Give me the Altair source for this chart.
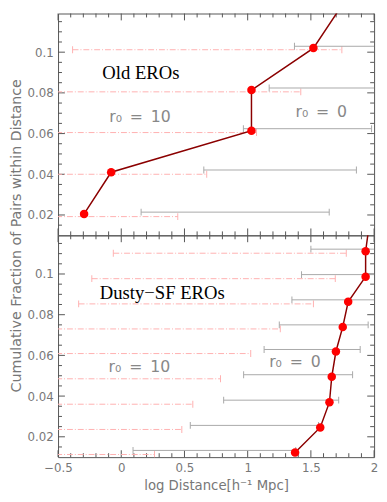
import altair as alt
import pandas as pd

# ---------------- data ----------------
# Old EROs panel
old_x = [-0.294, -0.08, 1.03, 1.03, 1.52, 1.74]
old_y = [0.0205, 0.041, 0.0614, 0.0814, 0.102, 0.1225]
old_r0_lo = [0.157, 0.653, 0.966, 1.17, 1.37]
old_r0_hi = [1.645, 1.86, 1.98, 2.1, 2.1]
old_r0_y = [0.0214, 0.0421, 0.0624, 0.0824, 0.1029]
old_r10_lo = [-0.6, -0.6, -0.6, -0.6, -0.385]
old_r10_hi = [0.447, 0.676, 1.07, 1.42, 1.745]
old_r10_y = [0.0192, 0.0400, 0.0605, 0.0805, 0.1012]

# Dusty-SF EROs panel
dusty_x = [1.375, 1.574, 1.647, 1.665, 1.698, 1.752, 1.795, 1.933, 1.933, 1.96]
dusty_y = [0.0123, 0.0246, 0.037, 0.0495, 0.0619, 0.074, 0.0863, 0.0987, 0.1112, 0.1235]
dusty_r0_lo = [0.093, 0.546, 0.81, 0.968, 1.13, 1.25, 1.35, 1.426, 1.50]
dusty_r0_hi = [1.38, 1.56, 1.72, 1.83, 1.89, 1.953, 2.1, 2.1, 2.1]
dusty_r0_y = [0.0133, 0.0256, 0.038, 0.0505, 0.0629, 0.075, 0.0873, 0.0997, 0.1122]
dusty_r10_lo = [-0.6, -0.6, -0.6, -0.6, -0.6, -0.6, -0.337, -0.233, -0.063]
dusty_r10_hi = [0.263, 0.479, 0.566, 0.785, 1.024, 1.258, 1.52, 1.693, 1.78]
dusty_r10_y = [0.0113, 0.0236, 0.036, 0.0485, 0.0609, 0.073, 0.0853, 0.0977, 0.1102]

# tick values
x_major = [-0.5, 0, 0.5, 1, 1.5, 2]
x_minor = [-0.4, -0.3, -0.2, -0.1, 0.1, 0.2, 0.3, 0.4, 0.6, 0.7, 0.8, 0.9,
           1.1, 1.2, 1.3, 1.4, 1.6, 1.7, 1.8, 1.9]
y_major = [0.02, 0.04, 0.06, 0.08, 0.1]
y_minor = [0.015, 0.025, 0.03, 0.035, 0.045, 0.05, 0.055, 0.065, 0.07, 0.075,
           0.085, 0.09, 0.095, 0.105, 0.11, 0.115]

# annotations: (x, y, text)
old_title = (-0.15, 0.087, "Old EROs")
old_r10 = (-0.095, 0.0657, "r\u2080\u2002=\u200210")
old_r0 = (1.378, 0.068, "r\u2080\u2002=\u20020")
dusty_title = (-0.17, 0.0876, "Dusty\u2212SF EROs")
dusty_r10 = (-0.1, 0.052, "r\u2080\u2002=\u200210")
dusty_r0 = (1.17, 0.0543, "r\u2080\u2002=\u20020")

# ---------------- styling ----------------
W, H = 322, 226
FRAME = "#555555"
LABEL = "#777777"
GRAY = "#a8a8a8"
PINK = "#ffb0b0"
XS = alt.Scale(domain=[-0.5, 2], nice=False, zero=False)
YS = alt.Scale(domain=[0.01, 0.119], nice=False, zero=False)


def panel(px, py, r0, r10, annot, bottom):
    yaxis_kw = dict(values=y_major, format=".2~f", ticks=False, domain=False, grid=False,
                    labelFont="DejaVu Sans", labelFontSize=12, labelColor=LABEL,
                    labelPadding=5)
    if bottom:
        YA = alt.Axis(title="", **yaxis_kw)
        XA = alt.Axis(
            values=x_major, format="~g", ticks=False, domain=False, grid=False,
            labelFont="DejaVu Sans", labelFontSize=12, labelColor=LABEL,
            labelPadding=6, labelFlush=False,
            title="log Distance[h\u207b\u00b9 Mpc]", titleFont="DejaVu Sans",
            titleFontSize=13.5, titleFontWeight="normal", titleColor=LABEL,
            titlePadding=5)
    else:
        YA = alt.Axis(title="Cumulative Fraction of Pairs within Distance",
                      titleFont="DejaVu Sans", titleFontSize=14.5,
                      titleFontWeight="normal", titleColor=LABEL,
                      titleAngle=270, titleX=-49, titleY=H,
                      titleAlign="center", titleBaseline="top", **yaxis_kw)
        XA = None

    def xq(field):
        return alt.X(field, scale=XS, axis=XA)

    def yq(field):
        return alt.Y(field, scale=YS, axis=YA)

    def errbars(lo, hi, y, color, dash=None):
        df = pd.DataFrame({"lo": lo, "hi": hi, "y": y})
        mk = dict(color=color, strokeWidth=1, clip=True)
        if dash is not None:
            mk["strokeDash"] = dash
        rule = alt.Chart(df).mark_rule(**mk).encode(
            x=xq("lo:Q"), x2="hi:Q", y=yq("y:Q"))
        caps = alt.Chart(df).transform_fold(["lo", "hi"], as_=["end", "xv"]).mark_tick(
            color=color, thickness=1, size=7, orient="vertical", opacity=1, clip=True
        ).encode(x=xq("xv:Q"), y=yq("y:Q"))
        return [rule, caps]

    def frame_ticks():
        layers = []
        for vals, ln in [(x_major, 7), (x_minor, 4)]:
            df = pd.DataFrame({"t": vals})
            layers.append(alt.Chart(df).mark_rule(color=FRAME).encode(
                x=xq("t:Q"), y=alt.value(H), y2=alt.value(H - ln)))
            layers.append(alt.Chart(df).mark_rule(color=FRAME).encode(
                x=xq("t:Q"), y=alt.value(0), y2=alt.value(ln)))
        for vals, ln in [(y_major, 7), (y_minor, 4)]:
            df = pd.DataFrame({"t": vals})
            layers.append(alt.Chart(df).mark_rule(color=FRAME).encode(
                y=yq("t:Q"), x=alt.value(0), x2=alt.value(ln)))
            layers.append(alt.Chart(df).mark_rule(color=FRAME).encode(
                y=yq("t:Q"), x=alt.value(W), x2=alt.value(W - ln)))
        return layers

    def texts(title, r10t, r0t):
        tdf = pd.DataFrame({"x": [title[0]], "y": [title[1]], "t": [title[2]]})
        rdf = pd.DataFrame({"x": [r10t[0], r0t[0]], "y": [r10t[1], r0t[1]],
                            "t": [r10t[2], r0t[2]]})
        t1 = alt.Chart(tdf).mark_text(font="Liberation Serif", fontSize=19, color="black",
                                      align="left", baseline="alphabetic").encode(
            x=xq("x:Q"), y=yq("y:Q"), text="t:N")
        t2 = alt.Chart(rdf).mark_text(font="DejaVu Sans", fontSize=16, color="#888888",
                                      align="left", baseline="alphabetic").encode(
            x=xq("x:Q"), y=yq("y:Q"), text="t:N")
        return [t1, t2]

    df = pd.DataFrame({"x": px, "y": py, "i": list(range(len(px)))})
    line = alt.Chart(df).mark_line(color="#8b0000", strokeWidth=1.5, clip=True).encode(
        x=xq("x:Q"), y=yq("y:Q"), order="i:Q")
    pts = alt.Chart(df).mark_circle(color="#ff0000", size=75, opacity=1, clip=True).encode(
        x=xq("x:Q"), y=yq("y:Q"))
    layers = (frame_ticks()
              + errbars(*r10, PINK, [6, 2, 1, 2])
              + errbars(*r0, GRAY)
              + [line, pts]
              + texts(*annot))
    return alt.layer(*layers).properties(width=W, height=H)


top = panel(old_x, old_y, (old_r0_lo, old_r0_hi, old_r0_y),
            (old_r10_lo, old_r10_hi, old_r10_y),
            (old_title, old_r10, old_r0), bottom=False)
bot = panel(dusty_x, dusty_y, (dusty_r0_lo, dusty_r0_hi, dusty_r0_y),
            (dusty_r10_lo, dusty_r10_hi, dusty_r10_y),
            (dusty_title, dusty_r10, dusty_r0), bottom=True)

chart = alt.vconcat(top, bot, spacing=0, bounds="flush").properties(
    padding=0
).configure_view(stroke=FRAME, strokeWidth=1)

chart.save("out.html", embed_options={"renderer": "svg", "actions": False})
